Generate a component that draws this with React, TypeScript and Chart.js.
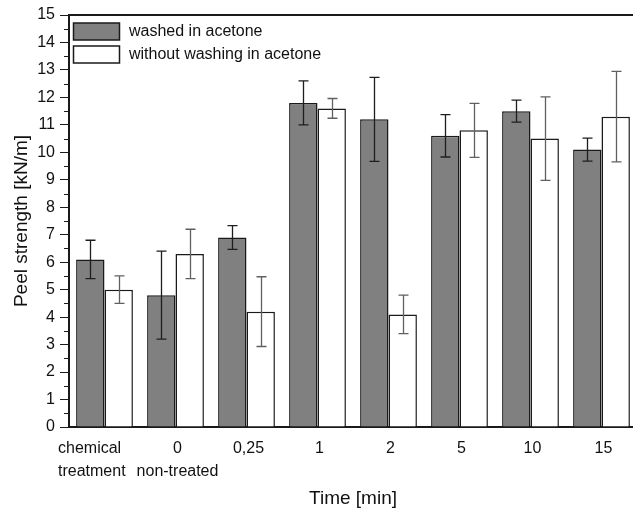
import React, { useEffect, useRef } from 'react';
import { Chart, registerables } from 'chart.js';

Chart.register(...registerables);

const categories: string[][] = [
  ['chemical', 'treatment'],
  ['0', 'non-treated'],
  ['0,25'],
  ['1'],
  ['2'],
  ['5'],
  ['10'],
  ['15'],
];
const seriesLabels = ['washed in acetone', 'without washing in acetone'];
const washed = [6.1, 4.8, 6.9, 11.8, 11.2, 10.6, 11.5, 10.1];
const washedErr = [0.7, 1.6, 0.43, 0.8, 1.53, 0.77, 0.4, 0.42];
const unwashed = [5.0, 6.3, 4.2, 11.6, 4.1, 10.8, 10.5, 11.3];
const unwashedErr = [0.5, 0.9, 1.27, 0.36, 0.7, 0.98, 1.52, 1.65];
const yMin = 0;
const yMax = 15;
const yStep = 1;
const yTitle = 'Peel strength [kN/m]';
const xTitle = 'Time [min]';

const FONT = "'Liberation Sans', Arial, sans-serif";
const errors = [washedErr, unwashedErr];
const errorColors = ['#1e1e1e', '#606060'];

const errorBarPlugin = {
  id: 'errorBars',
  afterDatasetsDraw(chart: any) {
    const { ctx } = chart;
    const y = chart.scales.y;
    chart.data.datasets.forEach((ds: any, di: number) => {
      const meta = chart.getDatasetMeta(di);
      meta.data.forEach((bar: any, i: number) => {
        const v = ds.data[i];
        const e = errors[di][i];
        const yt = y.getPixelForValue(v + e);
        const yb = y.getPixelForValue(v - e);
        const x = Math.round(bar.x) + 0.5;
        ctx.save();
        ctx.strokeStyle = errorColors[di];
        ctx.lineWidth = 1.3;
        ctx.beginPath();
        ctx.moveTo(x, yt);
        ctx.lineTo(x, yb);
        ctx.moveTo(x - 5, yt);
        ctx.lineTo(x + 5, yt);
        ctx.moveTo(x - 5, yb);
        ctx.lineTo(x + 5, yb);
        ctx.stroke();
        ctx.restore();
      });
    });
  },
};

const framePlugin = {
  id: 'frame',
  afterDraw(chart: any) {
    const { ctx, chartArea } = chart;
    const y = chart.scales.y;
    const x = chart.scales.x;
    ctx.save();
    // top frame line
    ctx.strokeStyle = '#1a1a1a';
    ctx.lineWidth = 2;
    ctx.beginPath();
    ctx.moveTo(chartArea.left - 1, chartArea.top);
    ctx.lineTo(chartArea.right + 10, chartArea.top);
    ctx.stroke();
    // minor ticks
    ctx.lineWidth = 1;
    ctx.beginPath();
    for (let v = yMin + yStep / 2; v < yMax; v += yStep) {
      const py = Math.round(y.getPixelForValue(v)) + 0.5;
      ctx.moveTo(chartArea.left - 5, py);
      ctx.lineTo(chartArea.left, py);
    }
    ctx.stroke();
    // x category labels
    ctx.fillStyle = '#111';
    ctx.font = `16px ${FONT}`;
    ctx.textBaseline = 'middle';
    const labels = chart.data.labels as string[][];
    labels.forEach((lines, i) => {
      const px = x.getPixelForValue(i);
      lines.forEach((t, li) => {
        const py = chartArea.bottom + 22 + li * 22.5;
        if (i === 0) {
          ctx.textAlign = 'left';
          ctx.fillText(t, chartArea.left - 11, py);
        } else {
          ctx.textAlign = 'center';
          ctx.fillText(t, px + 2, py);
        }
      });
    });
    // legend
    chart.data.datasets.forEach((ds: any, di: number) => {
      const top = chartArea.top + 8 + di * 23;
      ctx.fillStyle = ds.backgroundColor;
      ctx.fillRect(chartArea.left + 4.5, top, 46, 17);
      ctx.strokeStyle = '#1a1a1a';
      ctx.lineWidth = 1.5;
      ctx.strokeRect(chartArea.left + 4.5, top, 46, 17);
      ctx.fillStyle = '#111';
      ctx.textAlign = 'left';
      ctx.font = `16px ${FONT}`;
      ctx.fillText(ds.label, chartArea.left + 60, top + 9);
    });
    ctx.restore();
  },
};

export default function App() {
  const canvasRef = useRef<HTMLCanvasElement | null>(null);

  useEffect(() => {
    const canvas = canvasRef.current;
    if (!canvas) return;
    const chart = new Chart(canvas, {
      type: 'bar',
      data: {
        labels: categories as any,
        datasets: [
          {
            label: seriesLabels[0],
            data: washed,
            backgroundColor: '#808080',
            borderColor: '#1a1a1a',
            borderWidth: 1.5,
            barPercentage: 1,
            categoryPercentage: 0.8,
          },
          {
            label: seriesLabels[1],
            data: unwashed,
            backgroundColor: '#ffffff',
            borderColor: '#1a1a1a',
            borderWidth: 1.5,
            barPercentage: 1,
            categoryPercentage: 0.8,
          },
        ],
      },
      options: {
        responsive: false,
        animation: false,
        devicePixelRatio: 1,
        layout: { padding: { top: 15, right: 3, left: 0, bottom: 0 } },
        plugins: {
          legend: { display: false },
          tooltip: { enabled: false },
        },
        scales: {
          x: {
            type: 'category',
            offset: true,
            grid: { display: false, drawTicks: false },
            border: { display: true, color: '#1a1a1a', width: 2 },
            ticks: { display: false },
            title: {
              display: true,
              text: xTitle,
              color: '#111',
              font: { family: FONT, size: 19 },
              padding: { top: 0, bottom: 1 },
            },
            afterFit: (scale: any) => {
              scale.height = 84;
            },
          },
          y: {
            type: 'linear',
            min: yMin,
            max: yMax,
            grid: {
              display: true,
              drawOnChartArea: false,
              drawTicks: true,
              tickLength: 9,
              color: '#1a1a1a',
              lineWidth: 1,
            },
            border: { display: true, color: '#1a1a1a', width: 2 },
            ticks: {
              stepSize: yStep,
              color: '#111',
              padding: 5,
              font: { family: FONT, size: 16 },
            },
            title: {
              display: true,
              text: yTitle,
              color: '#111',
              font: { family: FONT, size: 19 },
              padding: { top: 10, bottom: 0 },
            },
            afterFit: (scale: any) => {
              scale.width = 69;
            },
          },
        },
      },
      plugins: [errorBarPlugin, framePlugin],
    });
    return () => chart.destroy();
  }, []);

  return (
    <div
      style={{
        position: 'fixed',
        left: 0,
        top: 0,
        width: 633,
        height: 511,
        overflow: 'hidden',
        background: '#ffffff',
      }}
    >
      <canvas ref={canvasRef} width={640} height={511} style={{ display: 'block', width: 640, height: 511 }} />
    </div>
  );
}
